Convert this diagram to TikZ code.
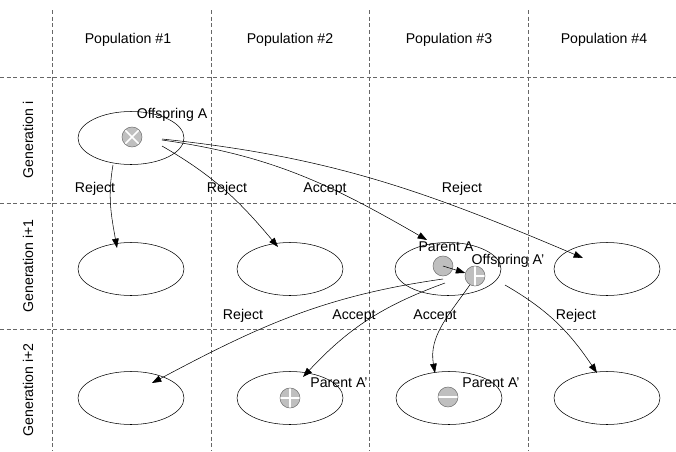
\documentclass[tikz,border=0pt]{standalone}
\usepackage{fontspec}
\setmainfont{Liberation Sans}
\usepackage{tikz}
\usetikzlibrary{shapes.geometric, arrows.meta, positioning, calc}
\tikzset{
  pop/.style={ellipse, draw, thin, minimum width=79.5pt, minimum height=39.75pt, inner sep=0pt},
  ind/.style={circle, draw=black!55, fill=black!25, thin, minimum size=15pt, inner sep=0pt},
  xmark/.style={path picture={\draw[white, line width=1.2pt]
      (path picture bounding box.north west) -- (path picture bounding box.south east)
      (path picture bounding box.north east) -- (path picture bounding box.south west);}},
  plusmark/.style={path picture={\draw[white, line width=1.2pt]
      (path picture bounding box.north) -- (path picture bounding box.south)
      (path picture bounding box.west) -- (path picture bounding box.east);}},
  minusmark/.style={path picture={\draw[white, line width=1.2pt]
      (path picture bounding box.west) -- (path picture bounding box.east);}},
  halfmark/.style={path picture={\draw[white, line width=1.2pt]
      (path picture bounding box.north) -- (path picture bounding box.south)
      (path picture bounding box.center) -- (path picture bounding box.east);}},
  arrow/.style={-{Triangle[length=7pt,width=5pt]}, thin},
  grid/.style={densely dashed, black!60, thin},
  lbl/.style={font=\fontsize{10.6}{12}\selectfont, inner sep=1pt},
}

\begin{document}
\begin{tikzpicture}[x=0.75pt, y=-0.75pt]
    \useasboundingbox (0,0) rectangle (676,451);

    % table lines
    \foreach \y in {77,203,329} \draw[grid] (0,\y) -- (676,\y);
    \foreach \x in {52,211,369,528} \draw[grid] (\x,10) -- (\x,451);

    % headers
    \node[lbl] (pop1) at (128,40) {Population \#1};
    \node[lbl] (pop2) at (290,40) {Population \#2};
    \node[lbl] (pop3) at (449,40) {Population \#3};
    \node[lbl] (pop4) at (604,40) {Population \#4};
    \node[lbl, rotate=90] (gen0) at (28,140) {Generation i};
    \node[lbl, rotate=90] (gen1) at (28,266) {Generation i+1};
    \node[lbl, rotate=90] (gen2) at (28,390) {Generation i+2};

    % populations
    \node[pop] (e11) at (131,138) {};
    \node[pop] (e21) at (131,269) {};
    \node[pop] (e22) at (290,269) {};
    \node[pop] (e23) at (448,269) {};
    \node[pop] (e24) at (607,269) {};
    \node[pop] (e31) at (131,398) {};
    \node[pop] (e32) at (290,398) {};
    \node[pop] (e33) at (449,398) {};
    \node[pop] (e34) at (607,398) {};

    % individuals
    \node[ind, xmark] (offA) at (132,137) {};
    \node[ind] (parA) at (443,266) {};
    \node[ind, halfmark] (offB) at (475,276) {};
    \node[ind, plusmark] (parB) at (290,398) {};
    \node[ind, minusmark] (parC) at (448,397) {};

    \node[lbl] (offAl) at (172,115) {Offspring A};
    \node[lbl] (parAl) at (446,247) {Parent A};
    \node[lbl] (offBl) at (508,261) {Offspring A’};
    \node[lbl] (parBl) at (339,383) {Parent A’};
    \node[lbl] (parCl) at (491,383) {Parent A’};

    % generation i -> i+1
    \draw[arrow] ($(e11)+(-18,27)$) to[out=260, in=100] ($(e21)+(-14,-21)$);
    \draw[arrow] ($(e11)+(31,8)$) to[out=-30, in=130] ($(e22)+(-12,-22)$);
    \draw[arrow] ($(e11)+(31,2)$) to[out=-8, in=150] ($(e23)+(-21,-29)$);
    \draw[arrow] ($(e11)+(31,1)$) to[out=-6, in=157] ($(e24)+(-24,-11)$);
    \node[lbl] (rej1) at (95,189) {Reject};
    \node[lbl] (rej2) at (227,189) {Reject};
    \node[lbl] (acc1) at (325,189) {Accept};
    \node[lbl] (rej3) at (462,189) {Reject};

    \draw[arrow] (parA.center) -- (offB);

    % generation i+1 -> i+2
    \draw[arrow] ($(e23)+(-5,10)$) to[out=188, in=28] ($(e31)+(21,-15)$);
    \draw[arrow] ($(e23)+(-3,14)$) to[out=200, in=47] ($(e32)+(13,-21)$);
    \draw[arrow] (offB.240) to[out=235, in=100] ($(e33)+(-14,-25)$);
    \draw[arrow] ($(e23)+(57,16)$) to[out=-30, in=124] ($(e34)+(-10,-25)$);
    \node[lbl] (rej4) at (243,316) {Reject};
    \node[lbl] (acc2) at (354,316) {Accept};
    \node[lbl] (acc3) at (435,316) {Accept};
    \node[lbl] (rej5) at (576,316) {Reject};
  \end{tikzpicture}
\end{document}
